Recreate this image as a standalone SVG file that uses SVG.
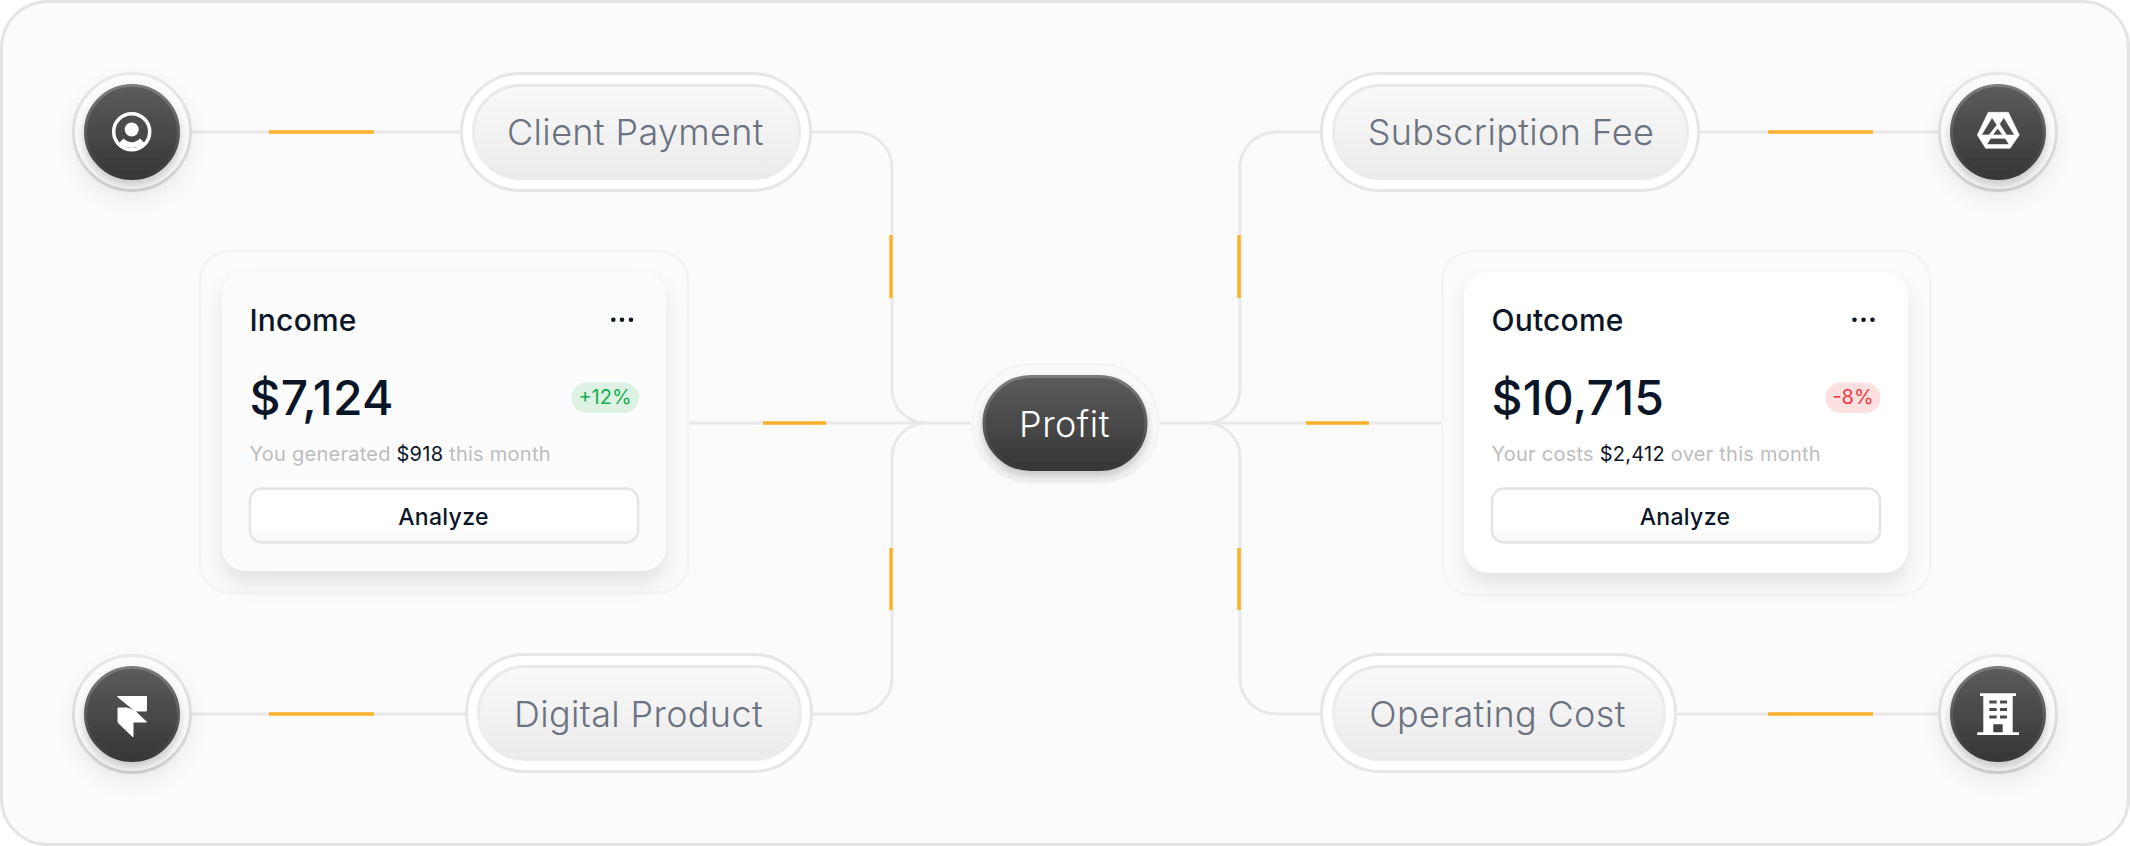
<svg xmlns="http://www.w3.org/2000/svg" width="2130" height="846" viewBox="0 0 2130 846">
<style>
text{font-family:"Inter","Liberation Sans",sans-serif}
.wire{fill:none;stroke:#e8e8e8;stroke-width:3}
.acc{fill:none;stroke:#fdb12a;stroke-width:3.5}
.ring{fill:#fbfbfb;stroke:url(#ringS);stroke-width:3;filter:url(#sh)}
.disc{fill:url(#dark);stroke:url(#darkS);stroke-width:3;filter:url(#ds)}
.po{fill:#fff;stroke:#e6e6e6;stroke-width:3}
.pi{fill:url(#pill);stroke:url(#pillS);stroke-width:3}
.pt{font-size:36px;font-weight:350;letter-spacing:.35px;fill:#6b7280;text-anchor:middle}
.ic{fill:#fff}
.h{font-size:30px;font-weight:450;letter-spacing:.2px;fill:#0a1628}
.v{font-size:48px;font-weight:450;letter-spacing:.2px;fill:#0a1628}
.s{font-size:20px;letter-spacing:.25px;fill:#bdbdbd}
.s tspan{fill:#0a1628}
.b{font-size:20px;text-anchor:middle}
.a{font-size:23px;font-weight:500;letter-spacing:.3px;fill:#0a1628;text-anchor:middle}
.btn{fill:url(#btn);stroke:#e4e4e4;stroke-width:2.5}
.wrap{fill:#fbfbfb;stroke:#f5f5f5;stroke-width:3}
.dot{fill:#0a1628}
</style>
<defs>
<linearGradient id="dark" x1="0" y1="0" x2="0" y2="1"><stop offset="0" stop-color="#5c5c5c"/><stop offset="1" stop-color="#363636"/></linearGradient>
<linearGradient id="darkS" x1="0" y1="0" x2="0" y2="1"><stop offset="0" stop-color="#7c7c7c"/><stop offset=".5" stop-color="#5c5c5c"/><stop offset="1" stop-color="#383838"/></linearGradient>
<linearGradient id="ringS" x1="0" y1="0" x2="0" y2="1"><stop offset="0" stop-color="#e8e8e8"/><stop offset="1" stop-color="#d2d2d2"/></linearGradient>
<linearGradient id="pill" x1="0" y1="0" x2="0" y2="1"><stop offset="0" stop-color="#f9f9f9"/><stop offset="1" stop-color="#ebebeb"/></linearGradient>
<linearGradient id="pillS" x1="0" y1="0" x2="0" y2="1"><stop offset="0" stop-color="#e8e8e8"/><stop offset=".7" stop-color="#eeeeee"/><stop offset="1" stop-color="#ebebeb"/></linearGradient>
<linearGradient id="btn" x1="0" y1="0" x2="0" y2="1"><stop offset="0" stop-color="#fff"/><stop offset=".7" stop-color="#fff"/><stop offset="1" stop-color="#f6f6f6"/></linearGradient>
<filter id="sh" x="-40%" y="-40%" width="180%" height="200%"><feDropShadow dx="0" dy="9" stdDeviation="9" flood-color="#000" flood-opacity=".06"/></filter>
<filter id="ds" x="-40%" y="-40%" width="180%" height="200%"><feDropShadow dx="0" dy="6" stdDeviation="5" flood-color="#000" flood-opacity=".2"/></filter>
<filter id="cs" x="-20%" y="-20%" width="140%" height="150%"><feDropShadow dx="0" dy="13" stdDeviation="10" flood-color="#000" flood-opacity=".09"/></filter>
</defs>
<rect id="frame" x="1.5" y="1.5" width="2127" height="843" rx="46" fill="#fbfbfb" stroke="#e4e4e4" stroke-width="3"/>
<g id="connectors">
<path class="wire" d="M192 132H460"/>
<path class="wire" d="M192 714H465"/>
<path class="wire" d="M1700 132H1938"/>
<path class="wire" d="M1677 714H1938"/>
<path class="wire" d="M689 423H972"/>
<path class="wire" d="M1160 423H1442"/>
<path class="wire" d="M812 132H856A36 36 0 0 1 892 168V389A34 34 0 0 0 926 423"/>
<path class="wire" d="M812 714H856A36 36 0 0 0 892 678V457A34 34 0 0 1 926 423"/>
<path class="wire" d="M1320 132H1276A36 36 0 0 0 1240 168V389A34 34 0 0 1 1206 423"/>
<path class="wire" d="M1320 714H1276A36 36 0 0 1 1240 678V457A34 34 0 0 0 1206 423"/>
<path class="acc" d="M269 132H374"/>
<path class="acc" d="M269 714H374"/>
<path class="acc" d="M1768 132H1873"/>
<path class="acc" d="M1768 714H1873"/>
<path class="acc" d="M763 423H826"/>
<path class="acc" d="M1306 423H1369"/>
<path class="acc" d="M891 235V298"/>
<path class="acc" d="M891 548V610"/>
<path class="acc" d="M1239 235V298"/>
<path class="acc" d="M1239 548V610"/>
</g>
<g id="icon-client">
<circle class="ring" cx="132" cy="132" r="58.5"/>
<circle class="disc" cx="132" cy="132" r="46.5"/>
<circle cx="131.7" cy="131.7" r="18" fill="none" stroke="#fff" stroke-width="3.5"/>
<circle class="ic" cx="131.7" cy="129.5" r="7"/>
<path class="ic" d="M119 143L123.5 138.5Q131.7 146 140 138.5L144.5 143A19 19 0 0 1 119 143Z"/>
</g>
<g id="icon-framer">
<circle class="ring" cx="132" cy="714" r="58.5"/>
<circle class="disc" cx="132" cy="714" r="46.5"/>
<path class="ic" stroke="#fff" stroke-width="1" stroke-linejoin="round" d="M117.5 696.5H146.5V711H135L127 708H118V722.5L133 737V722H146.5L135 711Z"/>
</g>
<g id="icon-drive">
<circle class="ring" cx="1998" cy="132" r="58.5"/>
<circle class="disc" cx="1998" cy="132" r="46.5"/>
<path class="ic" fill-rule="evenodd" stroke="#fff" stroke-width=".6" stroke-linejoin="round" d="M1988.3 112.3H2008.3L2019.3 135L2010 148.3H1985.7L1977.3 135ZM1992 117.5L1997 125L1989 135H1981.5ZM2003.8 117.5L2014.6 135H2006.5L1999.5 124ZM1997.7 128.3L2002.7 135H1992.7ZM1990.7 138.3H2005L2009.3 144.5H1986.7Z"/>
</g>
<g id="icon-building">
<circle class="ring" cx="1998" cy="714" r="58.5"/>
<circle class="disc" cx="1998" cy="714" r="46.5"/>
<path class="ic" fill-rule="evenodd" d="M1980 693.3H2016V696H2012.7V732.3H2019V735H1977.3V732.3H1983.3V696H1980ZM1989.3 700.5V703.5H1996.7V700.5ZM2000 700.5V703.5H2007V700.5ZM1989.3 708V711H1996.7V708ZM2000 708V711H2007V708ZM1989.3 715.5V718.5H1996.7V715.5ZM2000 715.5V718.5H2007V715.5ZM1993.3 724.3V732.3H2002.7V724.3Z"/>
</g>
<g id="client-payment">
<rect class="po" x="461.5" y="73.5" width="349" height="117" rx="58.5"/>
<rect class="pi" x="473.5" y="85.5" width="326" height="93" rx="46.5"/>
<text class="pt" x="635.5" y="145">Client Payment</text>
</g>
<g id="digital-product">
<rect class="po" x="466.5" y="654.5" width="345" height="117" rx="58.5"/>
<rect class="pi" x="478.5" y="666.5" width="322" height="93" rx="46.5"/>
<text class="pt" x="638.5" y="727">Digital Product</text>
</g>
<g id="subscription-fee">
<rect class="po" x="1321.5" y="73.5" width="377" height="117" rx="58.5"/>
<rect class="pi" x="1333.5" y="85.5" width="354" height="93" rx="46.5"/>
<text class="pt" x="1511" y="145">Subscription Fee</text>
</g>
<g id="operating-cost">
<rect class="po" x="1321.5" y="654.5" width="354" height="117" rx="58.5"/>
<rect class="pi" x="1333.5" y="666.5" width="331" height="93" rx="46.5"/>
<text class="pt" x="1497.5" y="727">Operating Cost</text>
</g>
<g id="profit">
<rect x="972.5" y="364.5" width="186" height="117" rx="58.5" fill="#fafafa" stroke="#f5f5f5" stroke-width="3"/>
<rect class="disc" x="984" y="376.5" width="162" height="93" rx="46.5"/>
<text x="1064.5" y="437" font-size="36" font-weight="300" letter-spacing=".5" fill="#fff" text-anchor="middle">Profit</text>
</g>
<g id="income">
<rect class="wrap" x="200" y="251" width="488" height="342" rx="30"/>
<rect x="222" y="272" width="444" height="299" rx="24" fill="#fcfcfc" filter="url(#cs)"/>
<text class="h" x="249.5" y="330.5">Income</text>
<circle class="dot" cx="613.3" cy="319.8" r="2.3"/><circle class="dot" cx="622" cy="319.8" r="2.3"/><circle class="dot" cx="631" cy="319.8" r="2.3"/>
<text class="v" x="249.5" y="414.5">$7,124</text>
<rect x="571.5" y="382.5" width="67.5" height="30.5" rx="15.25" fill="#def2e4"/>
<text class="b" x="605" y="403.5" fill="#16b04d">+12%</text>
<text class="s" x="249.5" y="461">You generated <tspan>$918</tspan> this month</text>
<rect class="btn" x="250" y="488.5" width="388" height="54" rx="12"/>
<text class="a" x="443.5" y="525">Analyze</text>
</g>
<g id="outcome">
<rect class="wrap" x="1442.5" y="251" width="488" height="344" rx="30"/>
<rect x="1464" y="272.5" width="444" height="300" rx="24" fill="#fff" filter="url(#cs)"/>
<text class="h" x="1491.5" y="330.5">Outcome</text>
<circle class="dot" cx="1854.5" cy="319.8" r="2.3"/><circle class="dot" cx="1863.5" cy="319.8" r="2.3"/><circle class="dot" cx="1872.5" cy="319.8" r="2.3"/>
<text class="v" x="1491.5" y="414.5">$10,715</text>
<rect x="1825.5" y="382.5" width="55" height="30.5" rx="15.25" fill="#fde0e0"/>
<text class="b" x="1853" y="403.5" fill="#f5393f">-8%</text>
<text class="s" x="1491.5" y="461">Your costs <tspan>$2,412</tspan> over this month</text>
<rect class="btn" x="1492" y="488.5" width="388" height="54" rx="12"/>
<text class="a" x="1685" y="525">Analyze</text>
</g>
</svg>
